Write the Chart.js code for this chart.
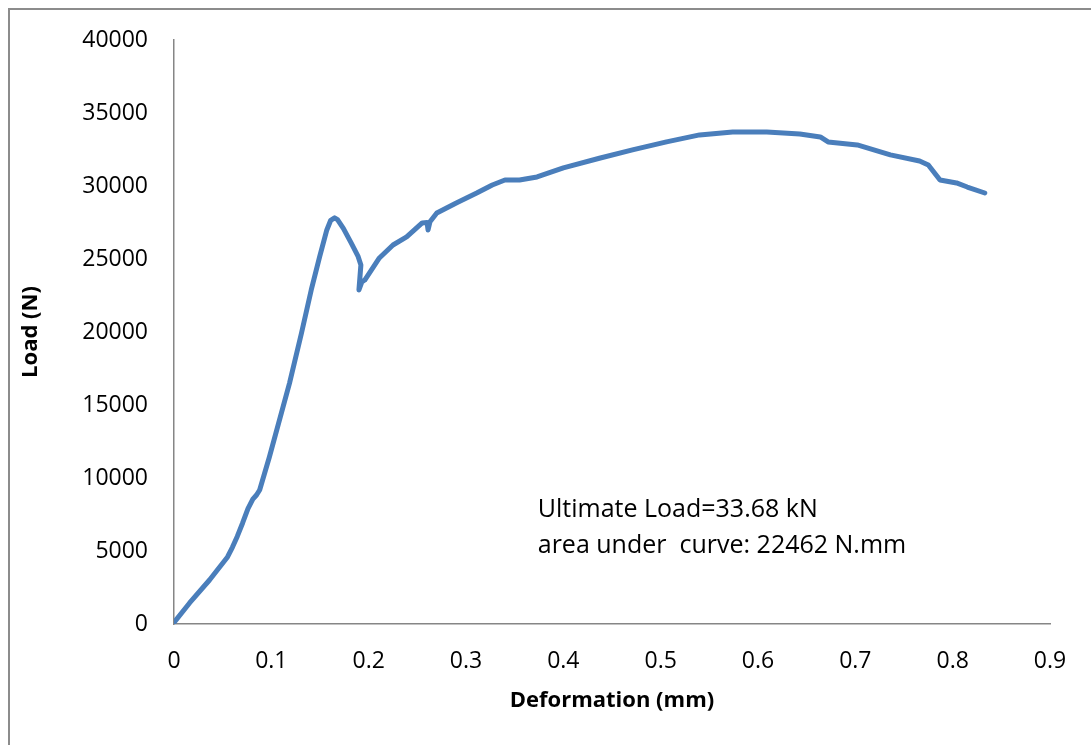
<!DOCTYPE html>
<html>
<head>
<meta charset="utf-8">
<script src="https://cdn.jsdelivr.net/npm/chart.js@4.4.1/dist/chart.umd.min.js"></script>
<style>
  html, body { margin: 0; padding: 0; background: #fff; overflow: hidden; }
  #wrap { width: 1091px; height: 745px; }
</style>
</head>
<body>
<div id="wrap"><canvas id="loadChart" width="1091" height="745"></canvas></div>
<script>
// Deformation (mm)
const deformation = [0, 0.016, 0.0365, 0.055, 0.060, 0.065, 0.0705, 0.0760, 0.0810, 0.0848, 0.088, 0.098,
  0.1187, 0.131, 0.141, 0.1496, 0.157, 0.161, 0.165, 0.168, 0.174, 0.182,
  0.189, 0.192, 0.190, 0.193, 0.196, 0.211, 0.225, 0.239, 0.255, 0.260,
  0.261, 0.263, 0.270, 0.290, 0.311, 0.327, 0.340, 0.355, 0.373, 0.400,
  0.437, 0.471, 0.506, 0.540, 0.574, 0.609, 0.643, 0.664, 0.672, 0.702,
  0.736, 0.766, 0.775, 0.787, 0.804, 0.815, 0.833];

// Load (N)
const load = [100, 1440, 3014, 4590, 5250, 6000, 6918, 7900, 8550, 8836, 9180, 11440,
  16500, 19930, 22880, 25140, 26990, 27650, 27820, 27700, 27100, 26100,
  25200, 24590, 22880, 23430, 23560, 25070, 25960, 26510, 27470, 27500,
  26990, 27550, 28150, 28840, 29520, 30070, 30410, 30410, 30620, 31240,
  31900, 32470, 33020, 33500, 33700, 33700, 33565, 33360, 33020, 32810,
  32130, 31715, 31440, 30410, 30210, 29930, 29520];

const noteLines = ['Ultimate Load=33.68 kN', 'area under  curve: 22462 N.mm'];

const points = deformation.map((d, i) => ({ x: d, y: load[i] }));

// outer frame + note text
const extras = {
  id: 'extras',
  beforeDraw(chart) {
    const ctx = chart.ctx;
    ctx.save();
    ctx.strokeStyle = '#8c8c8c';
    ctx.lineWidth = 2;
    ctx.strokeRect(9, 9, 2000, 2000);
    ctx.restore();
  },
  afterDatasetsDraw(chart) {
    const ctx = chart.ctx;
    const xs = chart.scales.x, ys = chart.scales.y;
    ctx.save();
    ctx.fillStyle = '#000';
    ctx.font = '25px "Open Sans"';
    ctx.textBaseline = 'middle';
    ctx.fillText(noteLines[0], xs.getPixelForValue(0.3737), ys.getPixelForValue(7809));
    ctx.fillText(noteLines[1], xs.getPixelForValue(0.3737), ys.getPixelForValue(5343));
    ctx.restore();
  }
};

new Chart(document.getElementById('loadChart').getContext('2d'), {
  type: 'scatter',
  data: {
    datasets: [{
      label: 'Load',
      data: points,
      showLine: true,
      borderColor: '#4a7ebb',
      borderWidth: 5,
      pointRadius: 0,
      tension: 0,
      borderCapStyle: 'round',
      borderJoinStyle: 'round'
    }]
  },
  options: {
    responsive: false,
    animation: false,
    layout: { padding: { left: 0, top: 40, right: 41, bottom: 0 } },
    plugins: { legend: { display: false }, tooltip: { enabled: false } },
    scales: {
      x: {
        type: 'linear',
        min: 0, max: 0.9,
        afterFit: s => { s.height = 121; },
        grid: { display: false, drawTicks: false },
        border: { display: true, color: '#868686', width: 1.5 },
        ticks: {
          stepSize: 0.1, padding: 24, color: '#000',
          font: { family: 'Open Sans', size: 23 },
          callback: v => Math.round(v * 10) / 10
        },
        title: {
          display: true, text: 'Deformation (mm)', color: '#000',
          font: { family: 'Open Sans', size: 22, weight: 'bold' },
          padding: { top: 0, bottom: 31 }
        }
      },
      y: {
        min: 0, max: 40000,
        afterFit: s => { s.width = 174; },
        grid: { display: false, drawTicks: false },
        border: { display: true, color: '#868686', width: 1.5 },
        ticks: {
          stepSize: 5000, padding: 26, color: '#000',
          font: { family: 'Open Sans', size: 23 },
          callback: v => String(v)
        },
        title: {
          display: true, text: 'Load (N)', color: '#000',
          font: { family: 'Open Sans', size: 22, weight: 'bold' },
          padding: { top: 18, bottom: 0 }
        }
      }
    }
  },
  plugins: [extras]
});
</script>
</body>
</html>
